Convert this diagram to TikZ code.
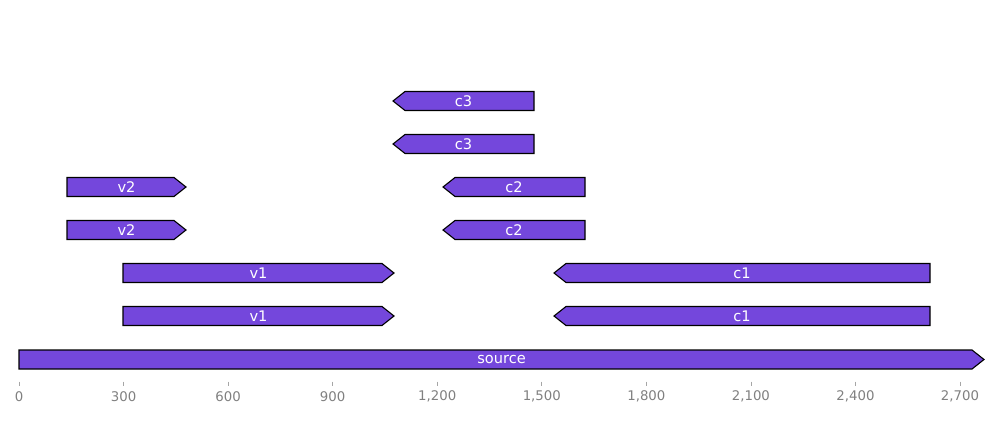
\documentclass[tikz,border=0pt]{standalone}
\usepackage{fontspec}
\setmainfont{DejaVu Sans}
\definecolor{feat}{HTML}{7447DC}
\definecolor{tickgray}{HTML}{808080}
\tikzset{
  featbox/.style={fill=feat, draw=black, line width=1.1pt, line join=miter},
  featlabel/.style={text=white, font=\fontsize{14.6}{14.6}\selectfont, inner sep=0pt},
  ticklabel/.style={text=tickgray, font=\fontsize{13.3}{13.3}\selectfont, inner sep=0pt},
  tickmark/.style={draw=tickgray!70, line width=0.8pt}
}
% forward feature: name, x1, x2 (tip), y, label
\newcommand\fwdfeat[5]{%
  \draw[featbox] (#2,#4-9.5) -- (#3-12,#4-9.5) -- (#3,#4) -- (#3-12,#4+9.5) -- (#2,#4+9.5) -- cycle;
  \node[featlabel] (#1) at ({(#2+#3)/2},#4) {#5};
}
% reverse feature: name, x1 (tip), x2, y, label
\newcommand\revfeat[5]{%
  \draw[featbox] (#2,#4) -- (#2+12,#4-9.5) -- (#3,#4-9.5) -- (#3,#4+9.5) -- (#2+12,#4+9.5) -- cycle;
  \node[featlabel] (#1) at ({(#2+#3)/2},#4) {#5};
}
\begin{document}
\begin{tikzpicture}[x=1pt,y=-1pt]
\useasboundingbox (0,0) rectangle (1000,420);
\revfeat{c3a}{393}{534}{101}{c3}
\revfeat{c3b}{393}{534}{144}{c3}
\fwdfeat{v2a}{67}{186}{187}{v2}
\revfeat{c2a}{443}{585}{187}{c2}
\fwdfeat{v2b}{67}{186}{230}{v2}
\revfeat{c2b}{443}{585}{230}{c2}
\fwdfeat{v1a}{123}{394}{273}{v1}
\revfeat{c1a}{554}{930}{273}{c1}
\fwdfeat{v1b}{123}{394}{316}{v1}
\revfeat{c1b}{554}{930}{316}{c1}
\fwdfeat{src}{19}{984}{359.5}{source}
\foreach \v/\t in {0/0,300/300,600/600,900/900,1200/{1,200},1500/{1,500},1800/{1,800},2100/{2,100},2400/{2,400},2700/{2,700}}{
  \coordinate (tk\v) at ({19+\v*0.34852},381.5);
  \draw[tickmark] (tk\v) -- ++(0,4);
  \node[ticklabel] (tl\v) at ({19+\v*0.34852},396.5) {\t};
}
\end{tikzpicture}
\end{document}
